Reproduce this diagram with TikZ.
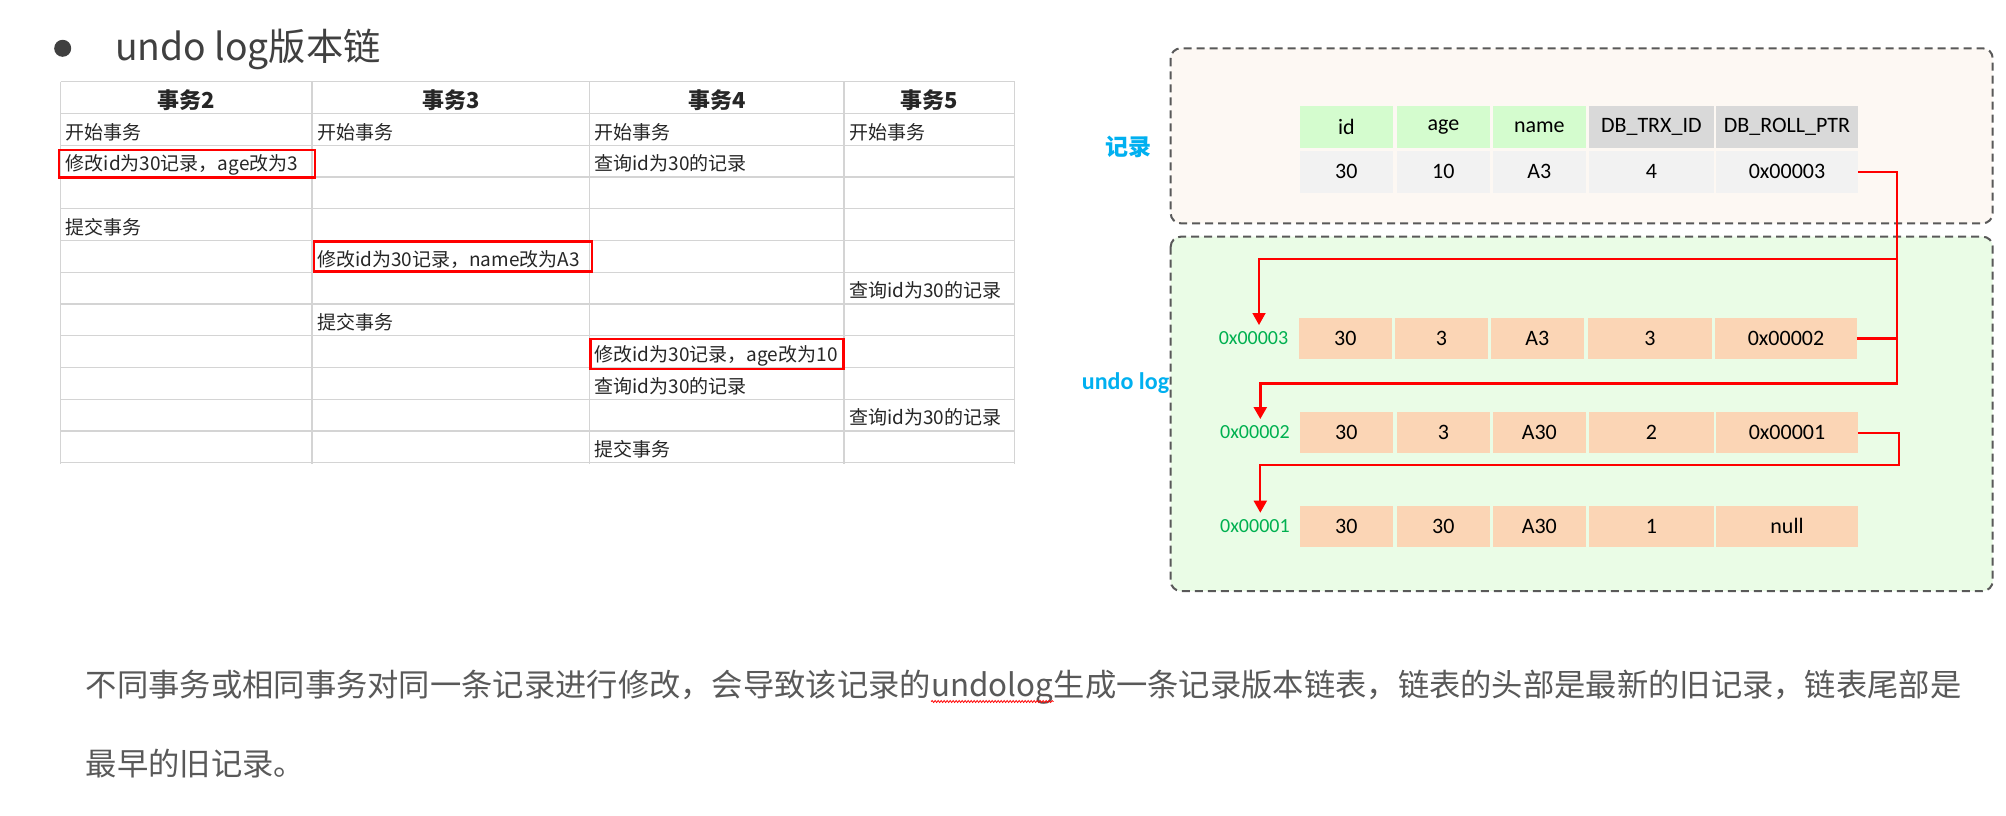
\documentclass[tikz,border=0pt]{standalone}
\usepackage{fontspec}
\usetikzlibrary{arrows.meta,decorations.pathmorphing}
\newfontfamily\cjkfont{Noto Sans CJK SC}
\newfontfamily\calfont{Carlito}

\definecolor{txtdark}{HTML}{262626}
\definecolor{gridgray}{HTML}{D4D4D4}
\definecolor{dashgray}{HTML}{595959}
\definecolor{recfill}{HTML}{FDF8F3}
\definecolor{undofill}{HTML}{EAFCE6}
\definecolor{hdrgreen}{HTML}{D4FCCE}
\definecolor{hdrgray}{HTML}{D9D9D9}
\definecolor{rowgray}{HTML}{F2F2F2}
\definecolor{undoorange}{HTML}{FBD5B5}
\definecolor{skyblue}{HTML}{00B0F0}
\definecolor{addrgreen}{HTML}{00B050}
\definecolor{bodygray}{HTML}{595959}
\definecolor{titlegray}{HTML}{404040}
\definecolor{chgred}{HTML}{FF0000}

\begin{document}
\begin{tikzpicture}[x=1pt,y=-1pt,
  hdr/.style={font=\cjkfont\bfseries\fontsize{22}{26}\selectfont, text=txtdark, inner sep=0pt, anchor=base},
  celltxt/.style={font=\cjkfont\fontsize{19}{23}\selectfont, text=txtdark, inner sep=0pt, anchor=base west},
  gridline/.style={draw=gridgray, line width=1.3pt},
  chgbox/.style={draw=chgred, line width=2.6pt},
  groupbox/.style={draw=dashgray, line width=2pt, dash pattern=on 8pt off 5pt, rounded corners=10pt},
  fld/.style={inner sep=0pt, minimum height=41.5pt, font=\calfont\fontsize{22}{26}\selectfont, text=black},
  addr/.style={inner sep=0pt, font=\calfont\fontsize{20}{24}\selectfont, text=addrgreen},
  sect/.style={inner sep=0pt, text=skyblue},
  ptr/.style={draw=chgred, line width=1.8pt, -{Triangle[length=12pt,width=13pt]}},
  ptrline/.style={draw=chgred, line width=2.4pt},
  bodytxt/.style={inner sep=0pt, anchor=base west, font=\cjkfont\fontsize{31.3}{37}\selectfont, text=bodygray}
]
\useasboundingbox (0,0) rectangle (2006,816);
\fill[white] (0,0) rectangle (2006,816);

% ---------- heading ----------
\fill[titlegray] (62.7,48.3) circle (8.5);
\node[inner sep=0pt, anchor=base west, font=\cjkfont\fontsize{37.3}{43}\selectfont, text=titlegray]
  (title) at (115,60.5) {undo log版本链};

% ---------- transaction table ----------
\foreach \gx in {60.7,312,589.5,844,1014.5}
  \draw[gridline] (\gx,81.7) -- (\gx,463.5);
\foreach \r in {0,...,12}
  \draw[gridline] (60.7,81.7+\r*31.75) -- (1014.5,81.7+\r*31.75);

\node[hdr] (tx2) at (186.4,108.4) {事务2};
\node[hdr] (tx3) at (450.8,108.4) {事务3};
\node[hdr] (tx4) at (716.8,108.4) {事务4};
\node[hdr] (tx5) at (929.3,108.4) {事务5};

% cell texts: column / row / text
\foreach \cx/\r/\t [count=\i] in {
   65.7/1/开始事务, 317/1/开始事务, 594.5/1/开始事务, 849/1/开始事务,
   65.7/2/{修改id为30记录，age改为3}, 594.5/2/查询id为30的记录,
   65.7/4/提交事务,
   317/5/{修改id为30记录，name改为A3},
   849/6/查询id为30的记录,
   317/7/提交事务,
   594.5/8/{修改id为30记录，age改为10},
   594.5/9/查询id为30的记录,
   849/10/查询id为30的记录,
   594.5/11/提交事务}
  \node[celltxt] (cell\i) at (\cx,81.7+\r*31.75+25.6) {\t};

% modified rows
\draw[chgbox] (59,150) rectangle (315,177.3);
\draw[chgbox] (314,241.7) rectangle (592,271.7);
\draw[chgbox] (590.7,339) rectangle (843.3,369);

% ---------- record / undo log groups ----------
\draw[groupbox, fill=recfill] (1170.7,48.3) rectangle (1992.7,223.3);
\draw[groupbox, fill=undofill] (1170.7,236.7) rectangle (1992.7,591);

\node[sect, font=\cjkfont\bfseries\fontsize{23}{27}\selectfont] (lrec) at (1128.5,146.7) {记录};
\node[sect, font=\calfont\bfseries\fontsize{24}{28}\selectfont] (lundo) at (1125.5,382.7) {undo log};

% current record
\foreach \k/\cx/\w/\c/\t in {1/1346.35/92.7/hdrgreen/id, 2/1443.35/92.7/hdrgreen/age,
    3/1539.35/92.7/hdrgreen/name, 4/1651.35/124.7/hdrgray/DB\_TRX\_ID,
    5/1787/141.4/hdrgray/DB\_ROLL\_PTR}
  \node[fld, fill=\c, minimum width=\w pt] (h\k) at (\cx,126.85) {\t};
\foreach \k/\cx/\w/\t in {1/1346.35/92.7/30, 2/1443.35/92.7/10, 3/1539.35/92.7/A3,
    4/1651.35/124.7/4, 5/1787/141.4/0x00003}
  \node[fld, fill=rowgray, minimum width=\w pt] (r\k) at (\cx,171.85) {\t};

% undo log versions
\foreach \k/\cx/\w/\t in {1/1345.35/92.7/30, 2/1441.35/92.7/3, 3/1537.35/92.7/A3,
    4/1649.85/123.7/3, 5/1786/141.4/0x00002}
  \node[fld, fill=undoorange, minimum width=\w pt] (ua\k) at (\cx,338.5) {\t};
\foreach \k/\cx/\w/\t in {1/1346.35/92.7/30, 2/1443.35/92.7/3, 3/1539.35/92.7/A30,
    4/1651.35/124.7/2, 5/1787/141.4/0x00001}
  \node[fld, fill=undoorange, minimum width=\w pt] (ub\k) at (\cx,432.5) {\t};
\foreach \k/\cx/\w/\t in {1/1346.35/92.7/30, 2/1443.35/92.7/30, 3/1539.35/92.7/A30,
    4/1651.35/124.7/1, 5/1787/141.4/null}
  \node[fld, fill=undoorange, minimum width=\w pt] (uc\k) at (\cx,526.35) {\t};

\node[addr] (adr3) at (1253.5,338.5) {0x00003};
\node[addr] (adr2) at (1254.9,432.5) {0x00002};
\node[addr] (adr1) at (1254.9,526.35) {0x00001};

% roll pointers
\coordinate (j1) at (1897,259.3);
\coordinate (t1) at (1259,325);
\coordinate (k2) at (1897,383.7);
\coordinate (t2) at (1260.3,419);
\coordinate (k3) at (1898.7,464.7);
\coordinate (t3) at (1260.3,512.7);

\draw[ptr] (r5.east) -| (j1) -| (t1);
\draw[ptrline] (ua5.east) -- (ua5.east -| j1);
\draw[ptr, line width=2.5pt] (j1) -- (k2) -| (t2);
\draw[ptr, line width=2pt] (ub5.east) -| (k3) -| (t3);

% ---------- explanation ----------
\node[bodytxt] (l1a) at (85.7,696.5) {不同事务或相同事务对同一条记录进行修改，会导致该记录的};
\node[bodytxt] (l1b) at (l1a.base east) {undolog};
\node[bodytxt] (l1c) at (l1b.base east) {生成一条记录版本链表，链表的头部是最新的旧记录，链表尾部是};
\node[bodytxt] (l2) at (85.7,775.7) {最早的旧记录。};
\draw[chgred, line width=0.8pt, decorate,
      decoration={snake, amplitude=1pt, segment length=3pt}]
  ([yshift=-5pt]l1b.base west) -- ([yshift=-5pt]l1b.base east);
\end{tikzpicture}
\end{document}
